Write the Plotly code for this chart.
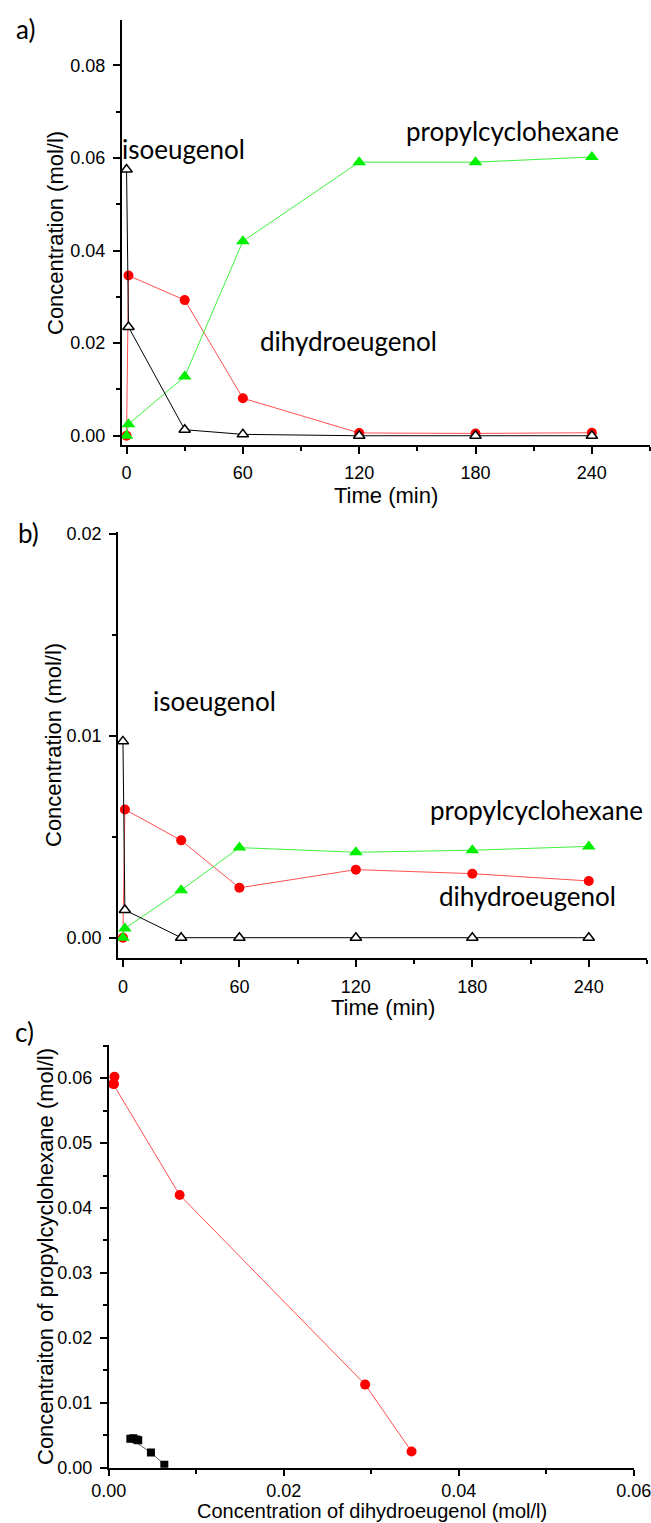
import plotly.graph_objects as go

# ---------------- data ----------------
time_a = [0, 1, 30, 60, 120, 180, 240]
iso_a = [0.0575, 0.0235, 0.0013, 0.0003, 0.0, 0.0, 0.0]
dihydro_a = [0.0, 0.0346, 0.0293, 0.0081, 0.0006, 0.0005, 0.00065]
propyl_a = [0.0, 0.0025, 0.0128, 0.0420, 0.0591, 0.0591, 0.0602]

time_b = [0, 1, 30, 60, 120, 180, 240]
iso_b = [0.00972, 0.00137, 0.0, 0.0, 0.0, 0.0, 0.0]
dihydro_b = [0.0, 0.00635, 0.00482, 0.00247, 0.00337, 0.00317, 0.00281]
propyl_b = [0.0, 0.00046, 0.00235, 0.00446, 0.00423, 0.00433, 0.00452]

W, H = 651, 1523
def px(x):
    return x / W
def py(y):
    return 1 - y / H

RED = "#ff0000"
GREEN = "#00f000"
TICKFONT = dict(family="Liberation Sans, Arial, sans-serif", size=18, color="black")
TITLEFONT = dict(family="Liberation Sans, Arial, sans-serif", size=22, color="black")
LABELFONT = dict(family="Lato, Open Sans, sans-serif", size=26, color="black")

fig = go.Figure()

def add_time_panel(xa, ya, t, iso, dih, pro):
    fig.add_trace(go.Scatter(x=t, y=dih, xaxis=xa, yaxis=ya, mode="lines+markers",
                             line=dict(color="rgba(255,60,60,0.9)", width=1),
                             marker=dict(symbol="circle", size=10, color=RED)))
    fig.add_trace(go.Scatter(x=t, y=pro, xaxis=xa, yaxis=ya, mode="lines+markers",
                             line=dict(color="rgba(40,240,40,0.9)", width=1),
                             marker=dict(symbol="triangle-up", size=12, color=GREEN)))
    fig.add_trace(go.Scatter(x=t, y=iso, xaxis=xa, yaxis=ya, mode="lines+markers",
                             line=dict(color="black", width=1),
                             marker=dict(symbol="triangle-up", size=10, color="white",
                                         line=dict(color="black", width=1.5))))

add_time_panel("x", "y", time_a, iso_a, dihydro_a, propyl_a)
add_time_panel("x2", "y2", time_b, iso_b, dihydro_b, propyl_b)

# panel c: propylcyclohexane vs dihydroeugenol (t > 0)
fig.add_trace(go.Scatter(x=dihydro_a[1:], y=propyl_a[1:], xaxis="x3", yaxis="y3",
                         mode="lines+markers",
                         line=dict(color="rgba(255,60,60,0.9)", width=1),
                         marker=dict(symbol="circle", size=10, color=RED)))
fig.add_trace(go.Scatter(x=dihydro_b[1:], y=propyl_b[1:], xaxis="x3", yaxis="y3",
                         mode="lines+markers",
                         line=dict(color="rgba(0,0,0,0.6)", width=1),
                         marker=dict(symbol="square", size=8, color="black")))

def axis(domain, rng, dtick, minor_dtick, fmt=None, anchor=None, tick0=0,
         standoff=4, ticklen=7):
    d = dict(domain=domain, range=rng, dtick=dtick, tick0=tick0,
             showline=True, linecolor="black", linewidth=1.6,
             ticks="outside", ticklen=ticklen, tickwidth=1.5, tickcolor="black",
             showgrid=False, zeroline=False, tickfont=TICKFONT,
             ticklabelstandoff=standoff, automargin=False,
             ticklabeloverflow="allow",
             minor=dict(ticks="outside", ticklen=4, tickwidth=1.5, tickcolor="black",
                        dtick=minor_dtick, tick0=tick0, showgrid=False))
    if fmt:
        d["tickformat"] = fmt
    if anchor:
        d["anchor"] = anchor
    return d

fig.update_layout(
    width=W, height=H,
    margin=dict(l=0, r=0, t=0, b=0, autoexpand=False),
    paper_bgcolor="white", plot_bgcolor="white",
    showlegend=False,
    xaxis=axis([px(121.7), px(650)], [-2.5, 270], 60, 30, anchor="y"),
    yaxis=axis([py(445), py(20)], [-0.002, 0.0898], 0.02, 0.01, fmt=".2f", anchor="x"),
    xaxis2=axis([px(117.9), px(647)], [-2.6, 270], 60, 30, anchor="y2"),
    yaxis2=axis([py(958.3), py(531.7)], [-0.00102, 0.0201], 0.01, 0.005, fmt=".2f", anchor="x2"),
    xaxis3=axis([px(108.75), px(634)], [0, 0.06002], 0.02, 0.01, fmt=".2f", anchor="y3",
                standoff=0, ticklen=6),
    yaxis3=axis([py(1467.7), py(1045)], [0, 0.0651], 0.01, 0.005, fmt=".2f", anchor="x3"),
)

def ann(text, x, y, font, angle=0):
    fig.add_annotation(text=text, x=px(x), y=py(y), xref="paper", yref="paper",
                       xanchor="center", yanchor="middle", showarrow=False,
                       font=font, textangle=angle)

# panel labels
ann("a)", 25, 29, LABELFONT)
ann("b)", 28, 533, LABELFONT)
ann("c)", 24, 1032, LABELFONT)

# series labels
ann("isoeugenol", 183.5, 149, LABELFONT)
ann("propylcyclohexane", 512.5, 131, LABELFONT)
ann("dihydroeugenol", 348.5, 341, LABELFONT)
ann("isoeugenol", 214, 701, LABELFONT)
ann("propylcyclohexane", 536, 810, LABELFONT)
ann("dihydroeugenol", 527, 896, LABELFONT)

# axis titles
ann("Time (min)", 386, 495, TITLEFONT)
ann("Concentration (mol/l)", 55, 233, TITLEFONT, -90)
ann("Time (min)", 383, 1007, TITLEFONT)
ann("Concentration (mol/l)", 53, 745, TITLEFONT, -90)
ann("Concentration of dihydroeugenol (mol/l)", 372, 1511,
    dict(family="Liberation Sans, Arial, sans-serif", size=20, color="black"))
ann("Concentraiton of propylcyclohexane (mol/l)", 45, 1257, TITLEFONT, -90)

fig.write_html("out.html")
